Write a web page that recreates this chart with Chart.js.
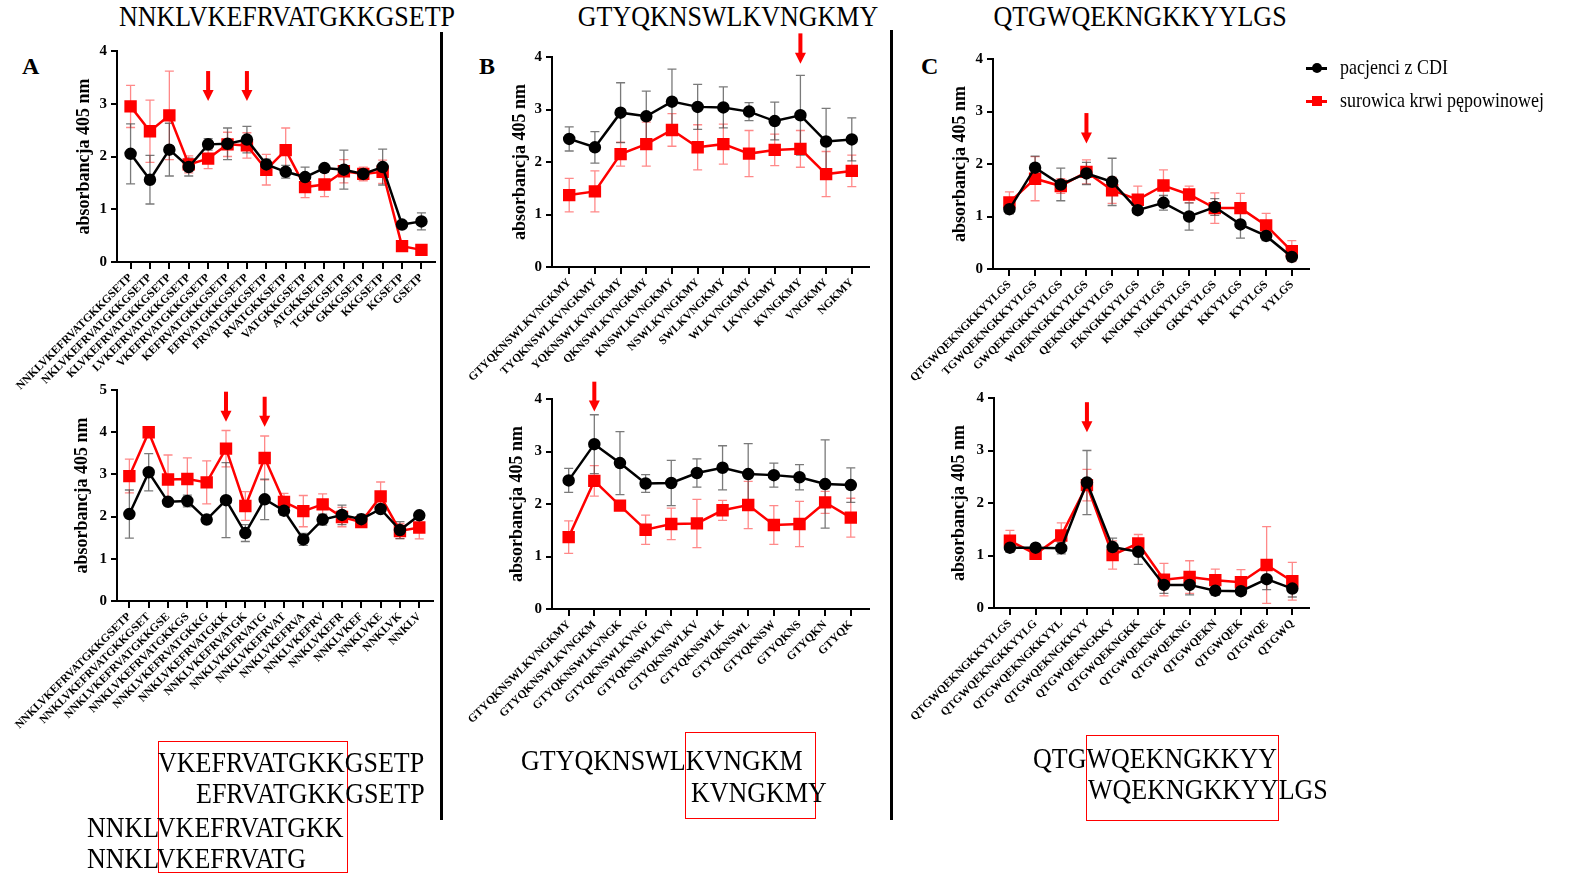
<!DOCTYPE html>
<html>
<head>
<meta charset="utf-8">
<script src="https://cdn.jsdelivr.net/npm/chart.js@4.4.1/dist/chart.umd.min.js"></script>
<style>
body { margin: 0; background: #fff; }
#page { position: relative; width: 1574px; height: 874px; overflow: hidden; background: #fff; font-family: 'Liberation Serif', 'Times New Roman', serif; color: #000; }
canvas { position: absolute; }
.t { position: absolute; white-space: nowrap; line-height: 1; }
.seq { font-size: 26px; transform: scaleY(1.13); transform-origin: 0 0; }
.title { font-size: 26px; transform: scaleY(1.1); transform-origin: 50% 0; text-align: center; width: 500px; }
.letter { font-size: 24px; font-weight: bold; }
.vline { position: absolute; width: 3px; background: #000; }
.box { position: absolute; border: 1.5px solid #f00; box-sizing: border-box; }
.leg { font-size: 18px; transform: scaleY(1.12); transform-origin: 0 0; }
</style>
</head>
<body>
<div id="page">
  <div class="t title" style="left:37px; top:3px;">NNKLVKEFRVATGKKGSETP</div>
  <div class="t title" style="left:478px; top:3px;">GTYQKNSWLKVNGKMY</div>
  <div class="t title" style="left:890px; top:3px;">QTGWQEKNGKKYYLGS</div>

  <div class="t letter" style="left:22px; top:54px;">A</div>
  <div class="t letter" style="left:479px; top:54px;">B</div>
  <div class="t letter" style="left:921px; top:54px;">C</div>

  <div class="vline" style="left:440px; top:32px; height:788px;"></div>
  <div class="vline" style="left:890px; top:30px; height:790px;"></div>

  <canvas id="aTop"></canvas>
  <canvas id="aBottom"></canvas>
  <canvas id="bTop"></canvas>
  <canvas id="bBottom"></canvas>
  <canvas id="cTop"></canvas>
  <canvas id="cBottom"></canvas>

  <!-- legend -->
  <div style="position:absolute; left:1306px; top:67px; width:21px; height:2.5px; background:#000;"></div>
  <div style="position:absolute; left:1312px; top:63px; width:10px; height:10px; border-radius:50%; background:#000;"></div>
  <div class="t leg" style="left:1340px; top:57px;">pacjenci z CDI</div>
  <div style="position:absolute; left:1306px; top:100px; width:21px; height:2.5px; background:#f00;"></div>
  <div style="position:absolute; left:1312px; top:96px; width:10px; height:10px; background:#f00;"></div>
  <div class="t leg" style="left:1340px; top:90px;">surowica krwi pępowinowej</div>

  <!-- sequence overlaps -->
  <div class="box" style="left:158px; top:741px; width:190px; height:132px;"></div>
  <div class="t seq" style="left:158px; top:748px;">VKEFRVATGKKGSETP</div>
  <div class="t seq" style="left:196px; top:779px;">EFRVATGKKGSETP</div>
  <div class="t seq" style="left:87px; top:813px;">NNKLVKEFRVATGKK</div>
  <div class="t seq" style="left:87px; top:844px;">NNKLVKEFRVATG</div>

  <div class="box" style="left:685px; top:732px; width:131px; height:87px;"></div>
  <div class="t seq" style="left:521px; top:746px;">GTYQKNSWLKVNGKM</div>
  <div class="t seq" style="left:691px; top:778px;">KVNGKMY</div>

  <div class="box" style="left:1086px; top:735px; width:193px; height:86px;"></div>
  <div class="t seq" style="left:1033px; top:744px;">QTGWQEKNGKKYY</div>
  <div class="t seq" style="left:1088px; top:775px;">WQEKNGKKYYLGS</div>
</div>

<script>
/* ---- data ---- */
const yTicks4 = [0, 1, 2, 3, 4];
const yTicks5 = [0, 1, 2, 3, 4, 5];

const labelsATop = ['NNKLVKEFRVATGKKGSETP', 'NKLVKEFRVATGKKGSETP', 'KLVKEFRVATGKKGSETP', 'LVKEFRVATGKKGSETP',
  'VKEFRVATGKKGSETP', 'KEFRVATGKKGSETP', 'EFRVATGKKGSETP', 'FRVATGKKGSETP', 'RVATGKKSETP', 'VATGKKGSETP',
  'ATGKKSETP', 'TGKKGSETP', 'GKKGSETP', 'KKGSETP', 'KGSETP', 'GSETP'];
const cdiATop = [2.05, 1.56, 2.13, 1.80, 2.23, 2.24, 2.32, 1.85, 1.71, 1.61, 1.78, 1.75, 1.67, 1.80, 0.71, 0.77];
const cdiATopErr = [0.57, 0.46, 0.50, 0.17, 0.11, 0.30, 0.25, 0.10, 0.12, 0.19, 0.06, 0.37, 0.07, 0.34, 0.05, 0.16];
const cordATop = [2.95, 2.48, 2.78, 1.85, 1.96, 2.23, 2.21, 1.75, 2.12, 1.42, 1.47, 1.72, 1.67, 1.71, 0.30, 0.23];
const cordATopErr = [0.40, 0.59, 0.84, 0.16, 0.19, 0.23, 0.24, 0.29, 0.42, 0.20, 0.23, 0.22, 0.13, 0.22, 0.03, 0.03];

const labelsABottom = ['NNKLVKEFRVATGKKGSETP', 'NNKLVKEFRVATGKKGSET', 'NNKLVKEFRVATGKKGSE', 'NNKLVKEFRVATGKKGS',
  'NNKLVKEFRVATGKKG', 'NNKLVKEFRVATGKK', 'NNKLVKEFRVATGK', 'NNKLVKEFRVATG', 'NNKLVKEFRVAT', 'NNKLVKEFRVA',
  'NNKLVKEFRV', 'NNKLVKEFR', 'NNKLVKEF', 'NNKLVKE', 'NNKLVK', 'NNKLV'];
const cdiABottom = [2.06, 3.05, 2.35, 2.37, 1.93, 2.39, 1.61, 2.41, 2.14, 1.46, 1.93, 2.04, 1.94, 2.18, 1.68, 2.03];
const cdiABottomErr = [0.57, 0.44, 0.06, 0.14, 0.08, 0.89, 0.20, 0.48, 0.11, 0.14, 0.13, 0.23, 0.11, 0.05, 0.20, 0.05];
const cordABottom = [2.96, 4.00, 2.88, 2.89, 2.81, 3.61, 2.25, 3.39, 2.35, 2.13, 2.29, 1.99, 1.87, 2.48, 1.66, 1.74];
const cordABottomErr = [0.40, 0.03, 0.58, 0.50, 0.51, 0.43, 0.34, 0.52, 0.20, 0.37, 0.25, 0.23, 0.05, 0.34, 0.18, 0.27];

const labelsBTop = ['GTYQKNSWLKVNGKMY', 'TYQKNSWLKVNGKMY', 'YQKNSWLKVNGKMY', 'QKNSWLKVNGKMY', 'KNSWLKVNGKMY',
  'NSWLKVNGKMY', 'SWLKVNGKMY', 'WLKVNGKMY', 'LKVNGKMY', 'KVNGKMY', 'VNGKMY', 'NGKMY'];
const cdiBTop = [2.44, 2.28, 2.94, 2.87, 3.15, 3.05, 3.04, 2.96, 2.78, 2.89, 2.39, 2.43];
const cdiBTopErr = [0.23, 0.30, 0.57, 0.48, 0.62, 0.43, 0.39, 0.17, 0.36, 0.76, 0.63, 0.41];
const cordBTop = [1.37, 1.44, 2.15, 2.34, 2.61, 2.28, 2.34, 2.16, 2.23, 2.25, 1.77, 1.83];
const cordBTopErr = [0.32, 0.39, 0.23, 0.42, 0.31, 0.43, 0.38, 0.44, 0.30, 0.35, 0.43, 0.30];

const labelsBBottom = ['GTYQKNSWLKVNGKMY', 'GTYQKNSWLKVNGKM', 'GTYQKNSWLKVNGK', 'GTYQKNSWLKVNG', 'GTYQKNSWLKVN',
  'GTYQKNSWLKV', 'GTYQKNSWLK', 'GTYQKNSWL', 'GTYQKNSW', 'GTYQKNS', 'GTYQKN', 'GTYQK'];
const cdiBBottom = [2.45, 3.14, 2.78, 2.39, 2.40, 2.59, 2.69, 2.57, 2.55, 2.51, 2.38, 2.36];
const cdiBBottomErr = [0.23, 0.56, 0.60, 0.17, 0.43, 0.27, 0.42, 0.58, 0.23, 0.24, 0.84, 0.33];
const cordBBottom = [1.37, 2.44, 1.97, 1.51, 1.62, 1.63, 1.88, 1.98, 1.60, 1.62, 2.03, 1.74];
const cordBBottomErr = [0.31, 0.29, 0.09, 0.28, 0.30, 0.46, 0.19, 0.45, 0.37, 0.43, 0.21, 0.37];

const labelsCTop = ['QTGWQEKNGKKYYLGS', 'TGWQEKNGKKYYLGS', 'GWQEKNGKKYYLGS', 'WQEKNGKKYYLGS', 'QEKNGKKYYLGS',
  'EKNGKKYYLGS', 'KNGKKYYLGS', 'NGKKYYLGS', 'GKKYYLGS', 'KKYYLGS', 'KYYLGS', 'YYLGS'];
const cdiCTop = [1.14, 1.93, 1.61, 1.82, 1.66, 1.12, 1.26, 1.00, 1.18, 0.85, 0.63, 0.23];
const cdiCTopErr = [0.09, 0.22, 0.31, 0.21, 0.45, 0.03, 0.14, 0.26, 0.16, 0.26, 0.09, 0.07];
const cordCTop = [1.27, 1.72, 1.58, 1.85, 1.50, 1.32, 1.59, 1.42, 1.16, 1.16, 0.83, 0.34];
const cordCTopErr = [0.20, 0.42, 0.14, 0.23, 0.25, 0.26, 0.30, 0.16, 0.29, 0.28, 0.23, 0.20];

const labelsCBottom = ['QTGWQEKNGKKYYLGS', 'QTGWQEKNGKKYYLG', 'QTGWQEKNGKKYYL', 'QTGWQEKNGKKYY', 'QTGWQEKNGKKY',
  'QTGWQEKNGKK', 'QTGWQEKNGK', 'QTGWQEKNG', 'QTGWQEKN', 'QTGWQEK', 'QTGWQE', 'QTGWQ'];
const cdiCBottom = [1.15, 1.15, 1.14, 2.39, 1.16, 1.07, 0.44, 0.44, 0.33, 0.32, 0.55, 0.37];
const cdiCBottomErr = [0.09, 0.03, 0.11, 0.61, 0.17, 0.24, 0.16, 0.19, 0.09, 0.07, 0.20, 0.16];
const cordCBottom = [1.28, 1.03, 1.38, 2.34, 1.01, 1.23, 0.54, 0.59, 0.53, 0.49, 0.82, 0.51];
const cordCBottomErr = [0.20, 0.03, 0.24, 0.30, 0.27, 0.17, 0.31, 0.31, 0.21, 0.24, 0.73, 0.36];

Chart.defaults.font.family = "'Liberation Serif', 'Times New Roman', serif";
Chart.defaults.color = '#000';

/* error bars drawn behind the lines */
const errorBars = {
  id: 'errorBars',
  beforeDatasetsDraw(chart) {
    const { ctx, scales: { x, y } } = chart;
    for (let d = chart.data.datasets.length - 1; d >= 0; d--) {
      const ds = chart.data.datasets[d];
      ctx.save();
      ctx.strokeStyle = ds.errorColor;
      ctx.lineWidth = 1.3;
      ds.data.forEach((p, i) => {
        const e = ds.errors[i];
        const px = x.getPixelForValue(p.x);
        const y1 = y.getPixelForValue(p.y + e);
        const y2 = y.getPixelForValue(p.y - e);
        ctx.beginPath();
        ctx.moveTo(px, y1); ctx.lineTo(px, y2);
        ctx.moveTo(px - 4.5, y1); ctx.lineTo(px + 4.5, y1);
        ctx.moveTo(px - 4.5, y2); ctx.lineTo(px + 4.5, y2);
        ctx.stroke();
      });
      ctx.restore();
    }
  }
};

/* red arrows over selected peptides */
const arrows = {
  id: 'arrows',
  afterDatasetsDraw(chart, args, opts) {
    const { ctx, scales: { x, y } } = chart;
    (opts.list || []).forEach(a => {
      const px = x.getPixelForValue(a.i);
      const y1 = y.getPixelForValue(a.from);
      const y2 = y.getPixelForValue(a.to);
      ctx.save();
      ctx.fillStyle = '#f00';
      ctx.fillRect(px - 2, y1, 4, y2 - y1 - 9);
      ctx.beginPath();
      ctx.moveTo(px - 5.5, y2 - 11);
      ctx.lineTo(px + 5.5, y2 - 11);
      ctx.lineTo(px, y2);
      ctx.closePath();
      ctx.fill();
      ctx.restore();
    });
  }
};

function points(vals) {
  return vals.map((v, i) => ({ x: i, y: v }));
}

function makePanel(id, p) {
  const canvas = document.getElementById(id);
  const cy = p.top - 32;
  const xAxisH = 140;
  canvas.width = p.right - p.cx + 15;
  canvas.height = p.bottom - cy + xAxisH;
  canvas.style.left = p.cx + 'px';
  canvas.style.top = cy + 'px';

  new Chart(canvas, {
    type: 'line',
    data: {
      datasets: [{
        label: 'pacjenci z CDI',
        data: points(p.cdi),
        errors: p.cdiErr,
        errorColor: 'rgba(50,50,50,0.65)',
        borderColor: '#000',
        backgroundColor: '#000',
        pointBackgroundColor: '#000',
        pointBorderColor: '#000',
        pointStyle: 'circle',
        pointRadius: 5,
        borderWidth: 2.5,
        tension: 0
      }, {
        label: 'surowica krwi pępowinowej',
        data: points(p.cord),
        errors: p.cordErr,
        errorColor: 'rgba(255,40,40,0.55)',
        borderColor: '#ff0000',
        backgroundColor: '#ff0000',
        pointBackgroundColor: '#ff0000',
        pointBorderColor: '#ff0000',
        pointStyle: 'rect',
        pointRadius: 7,
        borderWidth: 2.5,
        tension: 0
      }]
    },
    options: {
      responsive: false,
      animation: false,
      devicePixelRatio: 1,
      layout: { padding: { top: 32, right: 15, left: 0, bottom: 0 } },
      plugins: {
        legend: { display: false },
        tooltip: { enabled: false },
        arrows: { list: p.arrows }
      },
      scales: {
        x: {
          type: 'linear',
          bounds: 'data',
          min: p.xMin,
          max: p.xMax,
          afterBuildTicks: ax => { ax.ticks = p.labels.map((l, i) => ({ value: i })); },
          afterFit: ax => { ax.height = xAxisH; },
          ticks: {
            autoSkip: false,
            minRotation: 45,
            maxRotation: 45,
            padding: 2,
            font: { size: 11.5, weight: 'bold' },
            color: '#000',
            callback: v => p.labels[v]
          },
          grid: { drawOnChartArea: false, color: '#000', lineWidth: 2, tickLength: 7 },
          border: { color: '#000', width: 2 }
        },
        y: {
          bounds: 'data',
          min: 0,
          max: p.yTicks[p.yTicks.length - 1],
          afterBuildTicks: ax => { ax.ticks = p.yTicks.map(v => ({ value: v })); },
          afterFit: ax => { ax.width = p.axisX - p.cx; },
          ticks: { font: { size: 15, weight: 'bold' }, color: '#000', padding: 4 },
          grid: { drawOnChartArea: false, color: '#000', lineWidth: 2, tickLength: 6 },
          border: { color: '#000', width: 2 },
          title: {
            display: true,
            text: 'absorbancja 405 nm',
            color: '#000',
            font: { size: 18, weight: 'bold' },
            padding: { top: p.titleX - p.cx - 10.8, bottom: 0 }
          }
        }
      }
    },
    plugins: [errorBars, arrows]
  });
}

makePanel('aTop', {
  labels: labelsATop, cdi: cdiATop, cdiErr: cdiATopErr, cord: cordATop, cordErr: cordATopErr, yTicks: yTicks4,
  cx: 0, axisX: 117, top: 51, bottom: 262, right: 435, xMin: -0.7, xMax: 15.7, titleX: 84,
  arrows: [{ i: 4, from: 3.62, to: 3.05 }, { i: 6, from: 3.62, to: 3.05 }]
});
makePanel('aBottom', {
  labels: labelsABottom, cdi: cdiABottom, cdiErr: cdiABottomErr, cord: cordABottom, cordErr: cordABottomErr, yTicks: yTicks5,
  cx: 0, axisX: 117, top: 390, bottom: 601, right: 433, xMin: -0.64, xMax: 15.71, titleX: 82,
  arrows: [{ i: 5, from: 4.96, to: 4.25 }, { i: 7, from: 4.84, to: 4.13 }]
});
makePanel('bTop', {
  labels: labelsBTop, cdi: cdiBTop, cdiErr: cdiBTopErr, cord: cordBTop, cordErr: cordBTopErr, yTicks: yTicks4,
  cx: 445, axisX: 552, top: 57, bottom: 267, right: 869, xMin: -0.67, xMax: 11.67, titleX: 520,
  arrows: [{ i: 9, from: 4.45, to: 3.87 }]
});
makePanel('bBottom', {
  labels: labelsBBottom, cdi: cdiBBottom, cdiErr: cdiBBottomErr, cord: cordBBottom, cordErr: cordBBottomErr, yTicks: yTicks4,
  cx: 445, axisX: 552, top: 399, bottom: 609, right: 869, xMin: -0.65, xMax: 11.71, titleX: 517,
  arrows: [{ i: 1, from: 4.33, to: 3.76 }]
});
makePanel('cTop', {
  labels: labelsCTop, cdi: cdiCTop, cdiErr: cdiCTopErr, cord: cordCTop, cordErr: cordCTopErr, yTicks: yTicks4,
  cx: 895, axisX: 993, top: 59, bottom: 269, right: 1309, xMin: -0.64, xMax: 11.67, titleX: 960,
  arrows: [{ i: 3, from: 2.97, to: 2.39 }]
});
makePanel('cBottom', {
  labels: labelsCBottom, cdi: cdiCBottom, cdiErr: cdiCBottomErr, cord: cordCBottom, cordErr: cordCBottomErr, yTicks: yTicks4,
  cx: 895, axisX: 994, top: 398, bottom: 608, right: 1309, xMin: -0.62, xMax: 11.65, titleX: 959,
  arrows: [{ i: 3, from: 3.92, to: 3.35 }]
});
</script>
</body>
</html>
